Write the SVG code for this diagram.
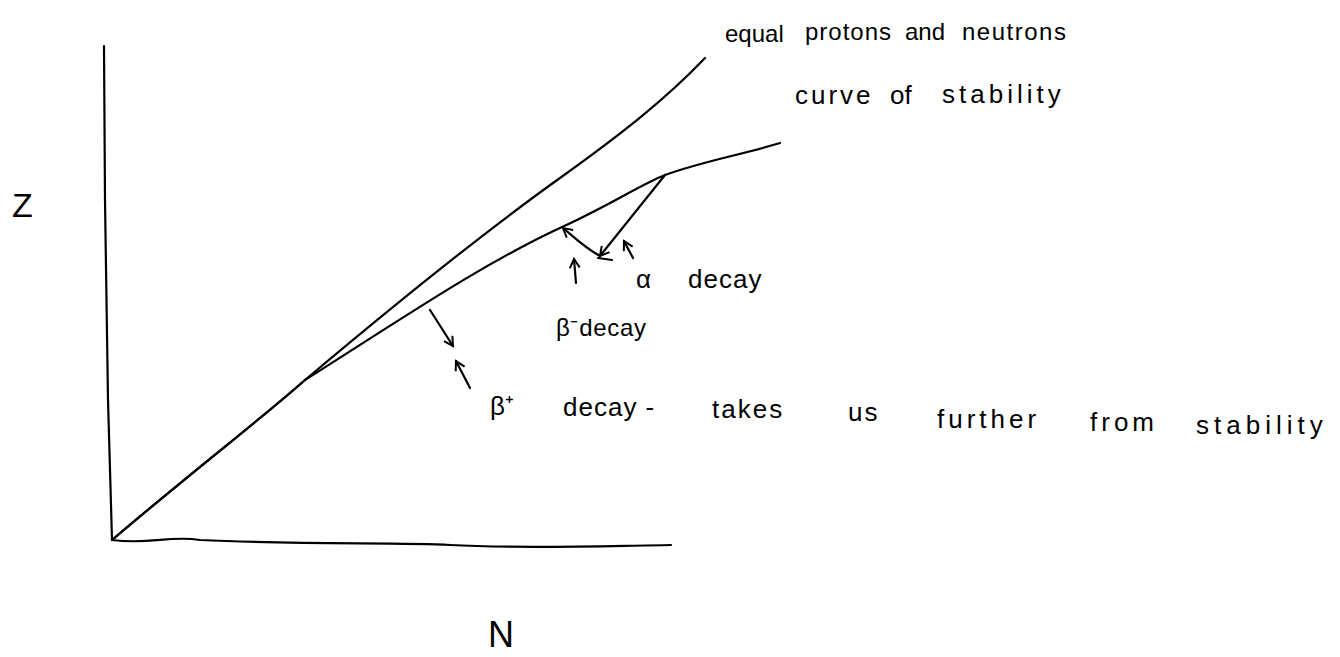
<svg xmlns="http://www.w3.org/2000/svg" width="1340" height="657" viewBox="0 0 1340 657">
<style>
.ln{fill:none;stroke:#000;stroke-width:2.2;stroke-linecap:round;stroke-linejoin:round}
.tx{font-family:"Liberation Sans",Arial,sans-serif;fill:#000}
</style>
<defs>
<marker id="ah" viewBox="0 0 12 12" refX="10" refY="6" markerWidth="12" markerHeight="12" markerUnits="userSpaceOnUse" orient="auto">
<path d="M1,1 L10,6 L1,11" fill="none" stroke="#000" stroke-width="2"/>
</marker>
</defs>
<rect width="1340" height="657" fill="#fff"/>
<g id="axes">
<path class="ln" d="M104,46 L105,200 L108,400 L112,540"/>
<path class="ln" d="M112,540 C150,545 170,535 200,540 C300,545 400,542 450,545 C520,549 600,546 671,545"/>
<text class="tx" x="12" y="217" font-size="34">Z</text>
<text class="tx" x="488" y="647" font-size="36">N</text>
</g>
<g id="equal-line">
<path class="ln" d="M112,540 C200,465 260,420 305,380 C400,300 480,235 560,178 C620,135 665,100 705,58"/>
<text class="tx" font-size="24"><tspan x="725" y="42">equal</tspan><tspan x="805" y="40" letter-spacing="1">protons</tspan><tspan x="905" y="40">and</tspan><tspan x="962" y="40" letter-spacing="1.5">neutrons</tspan></text>
</g>
<g id="stability-curve">
<path class="ln" d="M112,540 C200,465 260,420 305,380 C400,320 480,265 562,227 C610,205 640,185 665,175 C700,162 740,155 780,143"/>
<text class="tx" font-size="26"><tspan x="795" y="104" letter-spacing="3">curve</tspan><tspan x="890" y="104">of</tspan><tspan x="942" y="103" letter-spacing="4">stability</tspan></text>
</g>
<g id="connectors">
<path class="ln" d="M665,175 L600,256" marker-end="url(#ah)"/>
<path class="ln" d="M598,258 L612,260"/>
<path class="ln" d="M600,256 C585,248 575,238 563,228" marker-end="url(#ah)"/>
<path class="ln" d="M430,310 L453,346" marker-end="url(#ah)"/>
<path class="ln" d="M633,258 L624,241" marker-end="url(#ah)"/>
<path class="ln" d="M576,283 L574,259" marker-end="url(#ah)"/>
<path class="ln" d="M470,388 L456,361" marker-end="url(#ah)"/>
</g>
<g id="alpha-label">
<text class="tx" font-size="26"><tspan x="636" y="288">α</tspan><tspan x="688" y="288" letter-spacing="1">decay</tspan></text>
</g>
<g id="beta-minus-label">
<text class="tx" x="556" y="336" font-size="24" textLength="90" lengthAdjust="spacing">β⁻decay</text>
</g>
<g id="beta-plus-label">
<text class="tx" font-size="26"><tspan x="490" y="415">β⁺</tspan><tspan x="563" y="416" letter-spacing="1">decay -</tspan><tspan x="712" y="418" letter-spacing="2">takes</tspan><tspan x="848" y="421" letter-spacing="2">us</tspan><tspan x="937" y="428" letter-spacing="4">further</tspan><tspan x="1090" y="431" letter-spacing="4">from</tspan><tspan x="1196" y="434" letter-spacing="5">stability</tspan></text>
</g>
</svg>
